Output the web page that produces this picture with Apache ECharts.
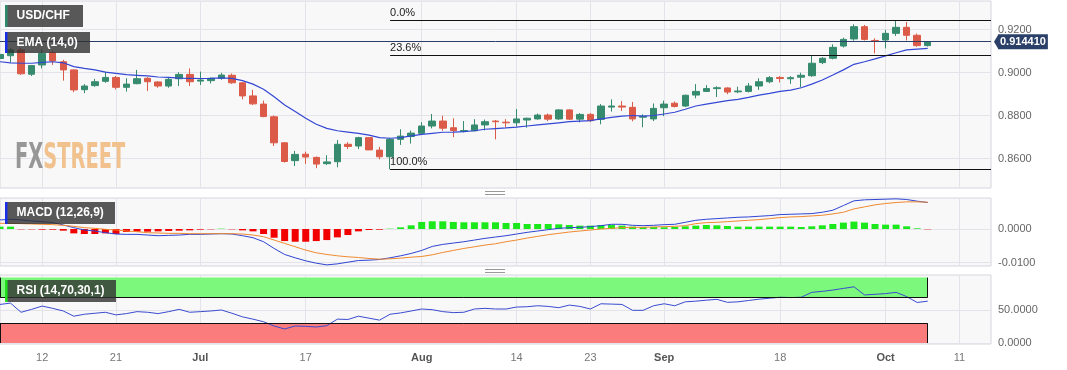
<!DOCTYPE html>
<html><head><meta charset="utf-8">
<script src="https://cdn.jsdelivr.net/npm/echarts@6/dist/echarts.min.js"></script>
<style>html,body{margin:0;padding:0;background:#fff}#c{width:1067px;height:370px}</style>
</head><body><div id="c"></div>
<script>
// ---------- data ----------
const dates = [
 '2023-06-06','2023-06-07','2023-06-08','2023-06-09','2023-06-12','2023-06-13','2023-06-14','2023-06-15','2023-06-16','2023-06-19',
 '2023-06-20','2023-06-21','2023-06-22','2023-06-23','2023-06-26','2023-06-27','2023-06-28','2023-06-29','2023-06-30','2023-07-03',
 '2023-07-04','2023-07-05','2023-07-06','2023-07-07','2023-07-10','2023-07-11','2023-07-12','2023-07-13','2023-07-14','2023-07-17',
 '2023-07-18','2023-07-19','2023-07-20','2023-07-21','2023-07-24','2023-07-25','2023-07-26','2023-07-27','2023-07-28','2023-07-31',
 '2023-08-01','2023-08-02','2023-08-03','2023-08-04','2023-08-07','2023-08-08','2023-08-09','2023-08-10','2023-08-11','2023-08-14',
 '2023-08-15','2023-08-16','2023-08-17','2023-08-18','2023-08-21','2023-08-22','2023-08-23','2023-08-24','2023-08-25','2023-08-28',
 '2023-08-29','2023-08-30','2023-08-31','2023-09-01','2023-09-04','2023-09-05','2023-09-06','2023-09-07','2023-09-08','2023-09-11',
 '2023-09-12','2023-09-13','2023-09-14','2023-09-15','2023-09-18','2023-09-19','2023-09-20','2023-09-21','2023-09-22','2023-09-25',
 '2023-09-26','2023-09-27','2023-09-28','2023-09-29','2023-10-02','2023-10-03','2023-10-04','2023-10-05','2023-10-06','2023-10-09',
 '2023-10-10','2023-10-11','2023-10-12','2023-10-13','2023-10-16'];

const opens = [0.9066,0.9079,0.9106,0.8993,0.9036,0.9093,0.9051,0.9013,0.8921,0.8940,
 0.8960,0.8978,0.8932,0.8949,0.8974,0.8957,0.8938,0.8972,0.8992,0.8961,
 0.8963,0.8974,0.8988,0.8953,0.8892,0.8854,0.8795,0.8674,0.8591,0.8621,
 0.8606,0.8577,0.8586,0.8667,0.8659,0.8698,0.8640,0.8609,0.8690,0.8703,
 0.8718,0.8752,0.8775,0.8744,0.8727,0.8730,0.8757,0.8775,0.8770,0.8767,
 0.8780,0.8785,0.8803,0.8785,0.8827,0.8784,0.8806,0.8783,0.8840,0.8845,
 0.8839,0.8793,0.8785,0.8837,0.8858,0.8845,0.8896,0.8913,0.8926,0.8929,
 0.8911,0.8913,0.8938,0.8958,0.8978,0.8972,0.8979,0.8986,0.9047,0.9067,
 0.9124,0.9157,0.9214,0.9150,0.9152,0.9183,0.9211,0.9174,0.9126];
const highs = [0.9092,0.9115,0.9115,0.9036,0.9108,0.9102,0.9060,0.9015,0.8947,0.8971,
 0.9005,0.8985,0.8974,0.9013,0.8980,0.8960,0.8979,0.9002,0.9020,0.9005,
 0.8978,0.8999,0.8996,0.8957,0.8920,0.8870,0.8801,0.8676,0.8636,0.8633,
 0.8610,0.8616,0.8687,0.8677,0.8702,0.8700,0.8655,0.8697,0.8737,0.8731,
 0.8770,0.8808,0.8800,0.8788,0.8775,0.8784,0.8782,0.8780,0.8784,0.8831,
 0.8791,0.8810,0.8810,0.8830,0.8830,0.8812,0.8812,0.8854,0.8876,0.8868,
 0.8864,0.8806,0.8857,0.8870,0.8866,0.8898,0.8947,0.8942,0.8937,0.8932,
 0.8935,0.8952,0.8974,0.8984,0.8984,0.8984,0.9000,0.9079,0.9072,0.9132,
 0.9163,0.9225,0.9222,0.9160,0.9199,0.9244,0.9236,0.9182,0.9147];
const lows = [0.9060,0.9048,0.8990,0.8985,0.9020,0.9036,0.8963,0.8909,0.8905,0.8935,
 0.8953,0.8922,0.8912,0.8946,0.8915,0.8930,0.8930,0.8938,0.8938,0.8943,
 0.8950,0.8967,0.8948,0.8876,0.8850,0.8793,0.8659,0.8582,0.8566,0.8576,
 0.8556,0.8571,0.8560,0.8645,0.8645,0.8640,0.8597,0.8551,0.8664,0.8670,
 0.8715,0.8741,0.8730,0.8700,0.8722,0.8727,0.8732,0.8690,0.8745,0.8749,
 0.8744,0.8782,0.8775,0.8780,0.8780,0.8769,0.8770,0.8760,0.8819,0.8822,
 0.8774,0.8746,0.8775,0.8798,0.8838,0.8840,0.8881,0.8910,0.8887,0.8900,
 0.8905,0.8908,0.8920,0.8951,0.8955,0.8948,0.8932,0.8981,0.9040,0.9062,
 0.9117,0.9149,0.9150,0.9090,0.9113,0.9171,0.9150,0.9121,0.9122];
const closes = [0.9085,0.9106,0.8995,0.9033,0.9090,0.9055,0.9013,0.8920,0.8938,0.8958,
 0.8978,0.8932,0.8947,0.8972,0.8958,0.8938,0.8969,0.8992,0.8958,0.8966,
 0.8974,0.8989,0.8953,0.8892,0.8855,0.8796,0.8674,0.8587,0.8620,0.8608,
 0.8575,0.8585,0.8667,0.8657,0.8698,0.8641,0.8609,0.8690,0.8705,0.8719,
 0.8752,0.8775,0.8742,0.8731,0.8731,0.8757,0.8772,0.8772,0.8767,0.8785,
 0.8788,0.8803,0.8784,0.8827,0.8784,0.8806,0.8777,0.8845,0.8845,0.8840,
 0.8785,0.8798,0.8834,0.8854,0.8843,0.8895,0.8913,0.8926,0.8930,0.8910,
 0.8915,0.8938,0.8958,0.8977,0.8973,0.8977,0.8988,0.9044,0.9067,0.9118,
 0.9155,0.9214,0.9155,0.9146,0.9183,0.9211,0.9174,0.9126,0.9144];

const ema14 = [0.9051,0.9046,0.9044,0.9044,0.9048,0.9051,0.9046,0.9028,0.9020,0.9013,
 0.9003,0.8997,0.8991,0.8988,0.8985,0.8980,0.8978,0.8975,0.8974,0.8973,
 0.8974,0.8976,0.8974,0.8963,0.8947,0.8923,0.8888,0.8850,0.8819,0.8788,
 0.8760,0.8741,0.8730,0.8724,0.8718,0.8710,0.8698,0.8695,0.8698,0.8706,
 0.8713,0.8718,0.8723,0.8724,0.8726,0.8730,0.8737,0.8740,0.8743,0.8747,
 0.8752,0.8757,0.8762,0.8767,0.8772,0.8775,0.8777,0.8785,0.8792,0.8798,
 0.8801,0.8798,0.8801,0.8808,0.8816,0.8830,0.8845,0.8854,0.8862,0.8870,
 0.8876,0.8885,0.8896,0.8904,0.8913,0.8919,0.8930,0.8947,0.8966,0.8989,
 0.9013,0.9039,0.9051,0.9064,0.9078,0.9093,0.9106,0.9110,0.9113];

const macdLine = [0.0027,0.0029,0.0027,0.0024,0.0022,0.0019,0.0012,0.0004,-0.0003,-0.0006,
 -0.0011,-0.0015,-0.0016,-0.0016,-0.0018,-0.0020,-0.0019,-0.0018,-0.0016,-0.0016,
 -0.0015,-0.0014,-0.0015,-0.0020,-0.0026,-0.0038,-0.0058,-0.0076,-0.0086,-0.0095,
 -0.0102,-0.0107,-0.0104,-0.0099,-0.0094,-0.0093,-0.0091,-0.0086,-0.0080,-0.0073,
 -0.0064,-0.0052,-0.0046,-0.0042,-0.0038,-0.0033,-0.0028,-0.0024,-0.0020,-0.0015,
 -0.0010,-0.0006,-0.0002,0.0002,0.0004,0.0005,0.0007,0.0010,0.0014,0.0014,
 0.0011,0.0010,0.0011,0.0013,0.0014,0.0020,0.0026,0.0029,0.0031,0.0033,
 0.0035,0.0036,0.0038,0.0040,0.0043,0.0044,0.0045,0.0046,0.0050,0.0056,
 0.0070,0.0084,0.0087,0.0088,0.0089,0.0090,0.0088,0.0083,0.0079];
const signalLine = [0.0017,0.0017,0.0016,0.0015,0.0014,0.0013,0.0011,0.0008,0.0004,0.0002,
 -0.0001,-0.0003,-0.0006,-0.0008,-0.0011,-0.0012,-0.0013,-0.0013,-0.0014,-0.0014,
 -0.0014,-0.0014,-0.0014,-0.0015,-0.0018,-0.0023,-0.0033,-0.0043,-0.0053,-0.0063,
 -0.0071,-0.0076,-0.0080,-0.0083,-0.0085,-0.0088,-0.0090,-0.0089,-0.0087,-0.0084,
 -0.0082,-0.0077,-0.0070,-0.0064,-0.0058,-0.0053,-0.0048,-0.0044,-0.0038,-0.0033,
 -0.0027,-0.0022,-0.0017,-0.0013,-0.0009,-0.0006,-0.0003,0.0000,0.0002,0.0004,
 0.0005,0.0005,0.0006,0.0007,0.0008,0.0010,0.0016,0.0019,0.0020,0.0022,
 0.0024,0.0026,0.0028,0.0031,0.0034,0.0036,0.0037,0.0039,0.0041,0.0045,
 0.0050,0.0060,0.0066,0.0072,0.0076,0.0079,0.0081,0.0081,0.0080];
const macdHist = [0.0007,0.0007,-0.0001,-0.0001,-0.0002,-0.0002,-0.0005,-0.0013,-0.0015,-0.0015,
 -0.0013,-0.0015,-0.0009,-0.0008,-0.0008,-0.0007,-0.0006,-0.0005,-0.0004,-0.0002,
 -0.0001,0.0001,-0.0001,-0.0004,-0.0007,-0.0015,-0.0026,-0.0036,-0.0038,-0.0038,
 -0.0036,-0.0033,-0.0025,-0.0018,-0.0007,-0.0003,-0.0002,0.0001,0.0005,0.0011,
 0.0021,0.0023,0.0023,0.0021,0.0020,0.0020,0.0020,0.0020,0.0018,0.0018,
 0.0015,0.0015,0.0015,0.0014,0.0012,0.0010,0.0010,0.0012,0.0012,0.0010,
 0.0007,0.0006,0.0006,0.0005,0.0006,0.0008,0.0010,0.0012,0.0011,0.0009,
 0.0007,0.0007,0.0007,0.0007,0.0007,0.0007,0.0006,0.0008,0.0011,0.0015,
 0.0019,0.0022,0.0019,0.0015,0.0013,0.0013,0.0008,0.0002,-0.0001];

const rsi14 = [59,61,47,51.5,56.5,53,49,41,44,45.5,
 47,43,45,48,47,45,48,51.5,47,48,
 49,50.5,45.5,40,36.5,32.5,26,21.5,26,25.5,
 24.5,26.5,36.5,36,41,38,35,44,46,49,
 52,51,48,46.5,47,52,53,52,52,55,
 55.5,57,56,54,58,56,52,60,59.5,59,
 50,50,57,60,57,63,64,65.5,66.8,62.2,
 63,65,67,68.5,70,69.5,70,77.5,79,81,
 83.5,86,73.5,74.5,75.5,77.5,71,62,64];

const tickDates = ['2023-06-12','2023-06-21','2023-07-03','2023-07-17','2023-08-01','2023-08-14','2023-08-23','2023-09-01','2023-09-18','2023-10-02','2023-10-11'];
const tickTexts = ['12','21','Jul','17','Aug','14','23','Sep','18','Oct','11'];
const priceTicks = [0.86, 0.88, 0.90, 0.92];
const macdTicks = [-0.01, 0];
const rsiTicks = [0, 50];
const fibNames = ['0.0%', '23.6%', '100.0%'];
const fibValues = [0.9244, 0.9080, 0.8551];
const fibStart = '2023-07-27';
const lastPrice = 0.914410;
const rsiUpperBand = [70, 100];
const rsiLowerBand = [0, 30];

// ---------- chart ----------
const FONT = '"Liberation Sans", Arial, sans-serif';
const chart = echarts.init(document.getElementById('c'), null, {renderer: 'canvas', width: 1067, height: 370});
const isTick = (i, v) => tickDates.indexOf(v) >= 0;
const lastData = dates[opens.length - 1];
const lastCat = dates[dates.length - 1];

const grids = [
  {left: 0, top: 1, width: 991, height: 187},
  {left: 0, top: 198, width: 991, height: 68},
  {left: 0, top: 275, width: 991, height: 69}
].map(g => Object.assign(g, {show: true, backgroundColor: '#f8f8f8', borderColor: '#d6d6de', borderWidth: 1}));

const xAxes = grids.map((g, k) => ({
  type: 'category', gridIndex: k, data: dates, boundaryGap: false,
  axisLine: {show: false}, axisTick: {show: false},
  axisLabel: {
    show: k === 2, interval: isTick, margin: 8, fontSize: 11, color: '#777', fontFamily: FONT,
    formatter: v => { const t = tickTexts[tickDates.indexOf(v)]; return /^[A-Z]/.test(t) ? '{m|' + t + '}' : t; },
    rich: {m: {fontWeight: 'bold', color: '#555', fontSize: 11, fontFamily: FONT}}
  },
  splitLine: {show: true, interval: isTick, lineStyle: {color: '#e3e3e9', width: 1}}
}));

function yAxisFor(k, min, max, ticks) {
  return {
    type: 'value', gridIndex: k, position: 'right', min: min, max: max,
    axisLine: {show: false}, axisTick: {show: false, customValues: ticks},
    axisLabel: {customValues: ticks, formatter: v => v.toFixed(4), color: '#666', fontSize: 11, margin: 7, fontFamily: FONT},
    splitLine: {show: true, lineStyle: {color: '#e3e3e9', width: 1}}
  };
}
const yAxes = [
  yAxisFor(0, 0.84637, 0.93335, priceTicks),
  yAxisFor(1, -0.01104, 0.00925, macdTicks),
  yAxisFor(2, -1.5, 104, rsiTicks)
];

const fibMarks = fibNames.map((n, i) => [
  {coord: [fibStart, fibValues[i]], lineStyle: {color: '#111', width: 1.2, type: 'solid'},
   label: {show: true, formatter: n, position: 'insideStartTop', distance: [0, 2], color: '#222', fontSize: 11, fontFamily: FONT}},
  {coord: [lastCat, fibValues[i]]}
]);
const priceMark = [
  {coord: [dates[0], lastPrice], lineStyle: {color: '#2a3f68', width: 1, type: 'solid'},
   label: {show: true, position: 'end', formatter: lastPrice.toFixed(6), distance: 7, backgroundColor: '#2b4068',
     color: '#fff', fontWeight: 'bold', fontSize: 11, fontFamily: FONT, padding: [2, 2, 2, 2]}},
  {coord: [lastCat, lastPrice]}
];

const bandEdge = (x1, y1, x2, y2) => [{coord: [x1, y1]}, {coord: [x2, y2]}];

chart.setOption({
  animation: false,
  grid: grids, xAxis: xAxes, yAxis: yAxes,
  series: [
    {type: 'candlestick', xAxisIndex: 0, yAxisIndex: 0, barWidth: 7,
     data: opens.map((o, i) => [o, closes[i], lows[i], highs[i]]),
     itemStyle: {color: '#368b6f', color0: '#dc5b48', borderColor: '#368b6f', borderColor0: '#dc5b48', borderWidth: 1},
     markLine: {silent: true, symbol: ['none', 'none'], animation: false, data: fibMarks.concat([priceMark])}},
    {type: 'line', xAxisIndex: 0, yAxisIndex: 0, data: ema14, symbol: 'none', z: 3,
     lineStyle: {color: '#3347d4', width: 1.2}},
    {type: 'bar', xAxisIndex: 1, yAxisIndex: 1, barWidth: 7,
     data: macdHist.map(v => ({value: v, itemStyle: {color: v >= 0 ? '#1ae81a' : '#f20000'}}))},
    {type: 'line', xAxisIndex: 1, yAxisIndex: 1, data: macdLine, symbol: 'none', z: 3,
     lineStyle: {color: '#2f44d2', width: 1}},
    {type: 'line', xAxisIndex: 1, yAxisIndex: 1, data: signalLine, symbol: 'none', z: 3,
     lineStyle: {color: '#f0892f', width: 1}},
    {type: 'line', xAxisIndex: 2, yAxisIndex: 2, data: rsi14, symbol: 'none', z: 4,
     lineStyle: {color: '#3a4bcf', width: 1},
     markArea: {silent: true, data: [
       [{coord: [dates[0], rsiUpperBand[0]], itemStyle: {color: '#7cf87c'}}, {coord: [lastData, rsiUpperBand[1]]}],
       [{coord: [dates[0], rsiLowerBand[0]], itemStyle: {color: '#fb7c7c'}}, {coord: [lastData, rsiLowerBand[1]]}]
     ]},
     markLine: {silent: true, symbol: ['none', 'none'], animation: false, label: {show: false},
       lineStyle: {color: '#111', width: 1, type: 'solid'},
       data: [
         bandEdge(dates[0], rsiUpperBand[0], lastData, rsiUpperBand[0]),
         bandEdge(dates[0], rsiLowerBand[1], lastData, rsiLowerBand[1]),
         bandEdge(lastData, rsiUpperBand[0], lastData, rsiUpperBand[1]),
         bandEdge(lastData, rsiLowerBand[0], lastData, rsiLowerBand[1]),
         bandEdge(dates[0], rsiUpperBand[0], dates[0], rsiUpperBand[1]),
         bandEdge(dates[0], rsiLowerBand[0], dates[0], rsiLowerBand[1])
       ]}}
  ]
});

// ---------- decorations ----------
function tag(x, y, w, h, accent, label) {
  return {type: 'group', x: x, y: y, zlevel: 1, children: [
    {type: 'rect', z: 100, zlevel: 1, shape: {x: 0, y: 0, width: w, height: h}, style: {fill: 'rgba(48,48,48,0.8)'}},
    {type: 'rect', z: 101, zlevel: 1, shape: {x: 0, y: 0, width: 2.5, height: h}, style: {fill: accent}},
    {type: 'text', z: 102, zlevel: 1, x: 11.5, y: h / 2, style: {text: label, fill: '#fff', font: 'bold 12px "Liberation Sans", Arial, sans-serif',
      verticalAlign: 'middle', textVerticalAlign: 'middle'}}
  ]};
}
const yc = chart.convertToPixel({yAxisIndex: 0}, lastPrice);
const handle = y => ({type: 'group', children: [
  {type: 'line', z: 50, shape: {x1: 485, y1: y, x2: 505, y2: y}, style: {stroke: '#9a9a9a', lineWidth: 1}},
  {type: 'line', z: 50, shape: {x1: 485, y1: y + 3, x2: 505, y2: y + 3}, style: {stroke: '#9a9a9a', lineWidth: 1}}
]});
const WM_FONT = '"Liberation Sans Narrow", "DejaVu Sans Condensed", sans-serif';
chart.setOption({graphic: [
  {type: 'text', x: 15, y: 141, z: 1, scaleX: 0.6, style: {
    text: '{f|FX}{s|STREET}', font: 'bold 36px ' + WM_FONT,
    rich: {
      f: {fill: '#979797', color: '#979797', fontSize: 36, fontWeight: 'bold', fontFamily: WM_FONT},
      s: {fill: '#f1c18e', color: '#f1c18e', fontSize: 36, fontWeight: 'bold', fontFamily: WM_FONT}
    }}},
  tag(5, 5, 78, 22, '#2f8a6c', 'USD/CHF'),
  tag(5, 32, 85, 21, '#1a2ee8', 'EMA (14,0)'),
  tag(5, 202, 110, 22, '#1a2ee8', 'MACD (12,26,9)'),
  tag(5, 280, 111, 22, '#1fe01f', 'RSI (14,70,30,1)'),
  handle(191.5), handle(269.5),
  {type: 'polygon', z: 60, shape: {points: [[994, yc], [998.5, yc - 7.5], [998.5, yc + 7.5]]}, style: {fill: '#2b4068'}}
]});
</script>
</body></html>
